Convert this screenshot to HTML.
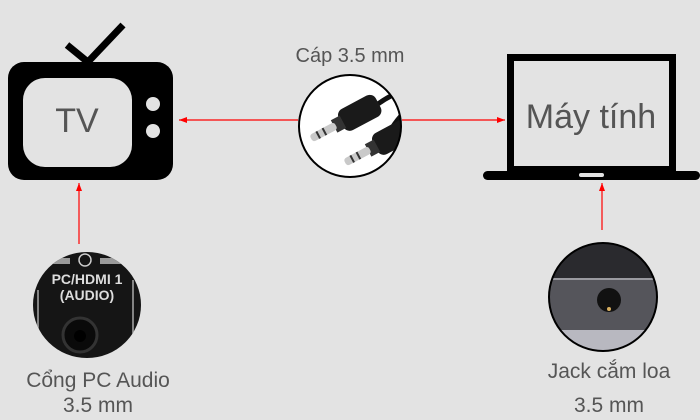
<!DOCTYPE html>
<html><head><meta charset="utf-8"><style>
html,body{margin:0;padding:0;background:#e3e3e3;}
svg{display:block}
text{font-family:"Liberation Sans",sans-serif;fill:#555}
</style></head><body>
<svg width="700" height="420" viewBox="0 0 700 420" xmlns="http://www.w3.org/2000/svg">
<defs>
<clipPath id="c1"><circle cx="350" cy="126" r="51"/></clipPath>
<clipPath id="c2"><ellipse cx="87" cy="305" rx="54" ry="53"/></clipPath>
<clipPath id="c3"><ellipse cx="603" cy="297" rx="54" ry="54"/></clipPath>
<marker id="ar" markerWidth="8" markerHeight="6" refX="8" refY="3" orient="auto" markerUnits="userSpaceOnUse"><path d="M0,0 L8,3 L0,6 Z" fill="#ff0000"/></marker>
</defs>
<rect width="700" height="420" fill="#e3e3e3"/>
<!-- TV -->
<line x1="67" y1="45" x2="89" y2="63" stroke="#000" stroke-width="7"/>
<line x1="86" y1="64" x2="123" y2="25" stroke="#000" stroke-width="7"/>
<rect x="8" y="62" width="165" height="118" rx="16" fill="#000"/>
<rect x="23" y="78" width="109" height="89" rx="22" fill="#e3e3e3"/>
<circle cx="153" cy="104" r="7" fill="#e3e3e3"/>
<circle cx="153" cy="131" r="7" fill="#e3e3e3"/>
<text x="77" y="132" font-size="34" text-anchor="middle">TV</text>
<!-- arrows -->
<line x1="298" y1="120" x2="179" y2="120" stroke="#ff0000" stroke-width="1.2" marker-end="url(#ar)"/>
<line x1="402" y1="120" x2="505" y2="120" stroke="#ff0000" stroke-width="1.2" marker-end="url(#ar)"/>
<line x1="79" y1="244" x2="79" y2="183" stroke="#ff0000" stroke-width="1.2" marker-end="url(#ar)"/>
<line x1="602" y1="230" x2="602" y2="183" stroke="#ff0000" stroke-width="1.2" marker-end="url(#ar)"/>
<!-- cable -->
<text x="350" y="62" font-size="20" text-anchor="middle">Cáp 3.5 mm</text>
<circle cx="350" cy="126" r="51" fill="#fff"/>
<g clip-path="url(#c1)">
<path d="M370,110 Q392,92 410,90" stroke="#111" stroke-width="5" fill="none"/>
<path d="M392,128 Q402,112 412,108" stroke="#111" stroke-width="5" fill="none"/>
<g transform="rotate(-28 350 118)">
<rect x="340" y="106" width="42" height="24" rx="7" fill="#1a1a1a"/>
<rect x="332" y="111" width="10" height="14" fill="#333"/>
<rect x="306" y="114" width="28" height="8" rx="3" fill="#c9c9c9"/>
<rect x="313" y="114" width="2" height="8" fill="#333"/>
<rect x="320" y="114" width="2" height="8" fill="#333"/>
</g>
<g transform="rotate(-28 384 142)">
<rect x="374" y="130" width="42" height="24" rx="7" fill="#1a1a1a"/>
<rect x="366" y="135" width="10" height="14" fill="#333"/>
<rect x="340" y="138" width="28" height="8" rx="3" fill="#c9c9c9"/>
<rect x="347" y="138" width="2" height="8" fill="#333"/>
<rect x="354" y="138" width="2" height="8" fill="#333"/>
</g>
</g>
<circle cx="350" cy="126" r="51" fill="none" stroke="#000" stroke-width="2"/>
<!-- laptop -->
<rect x="510.5" y="57.5" width="162" height="112" fill="none" stroke="#000" stroke-width="7"/>
<rect x="483" y="171" width="217" height="9" rx="4.5" fill="#000"/>
<rect x="579" y="173" width="25" height="4" rx="2" fill="#e3e3e3"/>
<text x="591" y="128" font-size="34" text-anchor="middle">Máy tính</text>
<!-- left port -->
<g clip-path="url(#c2)">
<rect x="30" y="250" width="115" height="110" fill="#151515"/>
<rect x="40" y="258" width="30" height="6" fill="#9a9a9a"/>
<rect x="100" y="258" width="40" height="6" fill="#9a9a9a"/>
<circle cx="85" cy="260" r="6" fill="none" stroke="#ccc" stroke-width="1.5"/>
<text x="87" y="284" font-size="14" font-weight="bold" text-anchor="middle" style="fill:#ddd">PC/HDMI 1</text>
<text x="87" y="300" font-size="14" font-weight="bold" text-anchor="middle" style="fill:#ddd">(AUDIO)</text>
<line x1="38" y1="290" x2="38" y2="340" stroke="#aaa" stroke-width="1.5"/>
<line x1="133" y1="280" x2="133" y2="345" stroke="#aaa" stroke-width="1.5"/>
<circle cx="80" cy="335" r="17" fill="#0a0a0a" stroke="#333" stroke-width="3"/>
<circle cx="80" cy="336" r="6" fill="#000"/>
</g>
<text x="98" y="387" font-size="21" text-anchor="middle">Cổng PC Audio</text>
<text x="98" y="412" font-size="21" text-anchor="middle">3.5 mm</text>
<!-- right port -->
<g clip-path="url(#c3)">
<rect x="545" y="240" width="115" height="115" fill="#2a2a2e"/>
<rect x="545" y="278" width="115" height="52" fill="#55555b"/>
<rect x="545" y="278" width="115" height="2" fill="#9a9aa0"/>
<rect x="545" y="330" width="115" height="25" fill="#b8b8c0"/>
<circle cx="609" cy="300" r="12" fill="#111"/>
<circle cx="609" cy="309" r="2" fill="#d9b060"/>
</g>
<ellipse cx="603" cy="297" rx="54" ry="54" fill="none" stroke="#000" stroke-width="2"/>
<text x="609" y="378" font-size="21" text-anchor="middle">Jack cắm loa</text>
<text x="609" y="412" font-size="21" text-anchor="middle">3.5 mm</text>
</svg>
</body></html>
